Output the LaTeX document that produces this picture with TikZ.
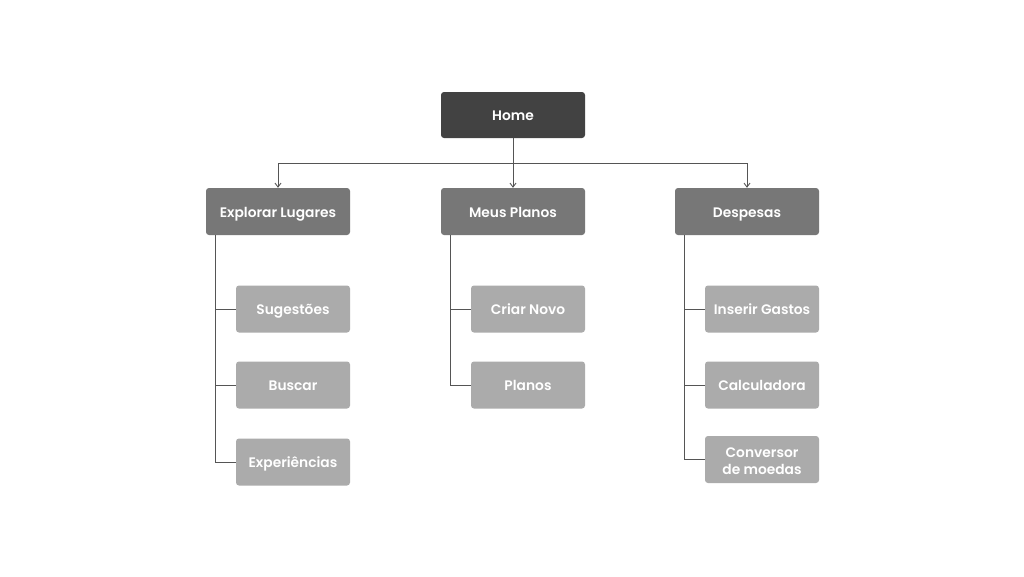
\documentclass[tikz,border=0pt]{standalone}
\usepackage{fontspec}
\setmainfont{Poppins}[BoldFont={Poppins SemiBold}]
\usetikzlibrary{arrows.meta}
\definecolor{topc}{HTML}{424242}
\definecolor{midc}{HTML}{777777}
\definecolor{leafc}{HTML}{ABABAB}
\definecolor{linec}{HTML}{555555}
\tikzset{
  box/.style={rounded corners=3pt, text=white, font=\bfseries\fontsize{13.8}{17}\selectfont, align=center, inner sep=0pt, text height=12pt, text depth=0.5pt},
  topbox/.style={box, fill=topc, minimum width=144pt, minimum height=46pt},
  midbox/.style={box, fill=midc, minimum width=144pt, minimum height=47pt},
  leafbox/.style={box, fill=leafc, minimum width=114pt, minimum height=47pt},
  conn/.style={draw=linec, line width=0.9pt},
  arr/.style={conn, -{Straight Barb[length=4pt,width=6pt]}}
}
\begin{document}
\begin{tikzpicture}[x=1pt,y=-1pt]
\useasboundingbox[fill=white] (0,0) rectangle (1024,576);
\node[topbox] (home) at (513,115) {Home};
\node[midbox] (exp) at (278,211.5) {Explorar Lugares};
\node[midbox] (mp) at (513,211.5) {Meus Planos};
\node[midbox] (desp) at (747,211.5) {Despesas};
\node[leafbox] (sug) at (293,309) {Sugestões};
\node[leafbox] (bus) at (293,385) {Buscar};
\node[leafbox] (expe) at (293,462) {Experiências};
\node[leafbox] (cri) at (528,309) {Criar Novo};
\node[leafbox] (pla) at (528,385) {Planos};
\node[leafbox] (ins) at (762,309) {Inserir Gastos};
\node[leafbox] (cal) at (762,385) {Calculadora};
\node[leafbox, text height=, text depth=] (con) at (762,459.5) {\raisebox{-3pt}[\height][\depth]{\begin{tabular}{@{}c@{}}Conversor\\de moedas\end{tabular}}};
\coordinate (busl) at (278,163);
\coordinate (busr) at (747,163);
\draw[conn] (busl) -- (busr);
\draw[arr] (home.south) -- (mp.north);
\draw[arr] (busl) -- (exp.north);
\draw[arr] (busr) -- (desp.north);
% Explorar children
\draw[conn] ([xshift=-63pt]exp.south) |- (expe.west);
\draw[conn] ([xshift=-63pt]exp.south |- sug.west) -- (sug.west);
\draw[conn] ([xshift=-63pt]exp.south |- bus.west) -- (bus.west);
% Meus Planos children
\draw[conn] ([xshift=-63pt]mp.south) |- (pla.west);
\draw[conn] ([xshift=-63pt]mp.south |- cri.west) -- (cri.west);
% Despesas children
\draw[conn] ([xshift=-63pt]desp.south) |- (con.west);
\draw[conn] ([xshift=-63pt]desp.south |- ins.west) -- (ins.west);
\draw[conn] ([xshift=-63pt]desp.south |- cal.west) -- (cal.west);
\end{tikzpicture}
\end{document}
